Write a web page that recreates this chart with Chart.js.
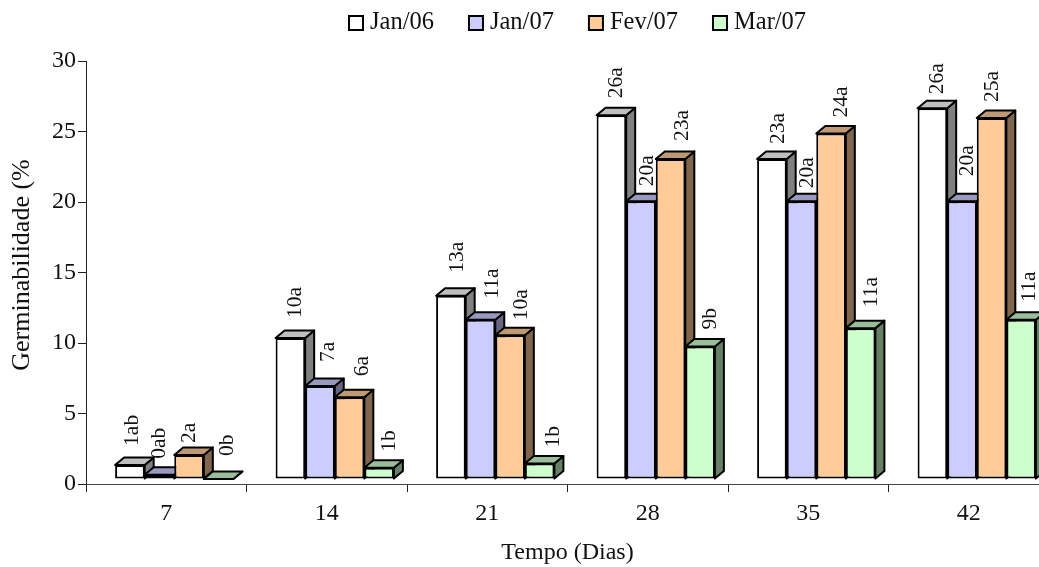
<!DOCTYPE html>
<html>
<head>
<meta charset="utf-8">
<style>
  html, body { margin: 0; background: #fff; overflow: hidden; }
  canvas { display: block; }
</style>
<script src="https://cdn.jsdelivr.net/npm/chart.js@4"></script>
</head>
<body>
<canvas id="germChart" width="1152" height="567" style="width:1152px;height:567px"></canvas>
<script>
const days = ['7', '14', '21', '28', '35', '42'];
const seriesNames = ['Jan/06', 'Jan/07', 'Fev/07', 'Mar/07'];

const jan06 = [1, 10, 13, 25.8, 22.7, 26.3];
const jan07 = [0.3, 6.6, 11.3, 19.7, 19.7, 19.7];
const fev07 = [1.7, 5.8, 10.2, 22.7, 24.5, 25.6];
const mar07 = [0, 0.8, 1.1, 9.4, 10.7, 11.3];

const jan06Labels = ['1ab', '10a', '13a', '26a', '23a', '26a'];
const jan07Labels = ['0ab', '7a', '11a', '20a', '20a', '20a'];
const fev07Labels = ['2a', '6a', '10a', '23a', '24a', '25a'];
const mar07Labels = ['0b', '1b', '1b', '9b', '11a', '11a'];

const colors = ['#ffffff', '#ccccff', '#ffcc99', '#ccffcc'];
const serif = '"Liberation Serif", "Times New Roman", serif';

// the labels in the original were moved by hand, so each one has its own nudge
const labelShiftX = [[2, 5, 6, 5, 6, 5], [0, 8, 12, 6, 6, 5], [0, 13, 11, 12, 10, 1], [9, 10, 14, 10, 11, 8]];
const labelGap = [[19, 20, 23, 17, 15, 14], [16, 24, 21, 15, 13, 25], [12, 21, 15, 18, 16, 16], [23, 16, 16, 17, 21, 18]];
const allLabels = [jan06Labels, jan07Labels, fev07Labels, mar07Labels];

const shiftX = 8, shiftY = -5;   // bars stand in front of the axis
const depthX = 9, depthY = -7.5;
const edge = 2;

function shade(hex, f) {
  const n = parseInt(hex.slice(1), 16);
  const r = Math.round((n >> 16 & 255) * f), g = Math.round((n >> 8 & 255) * f), b = Math.round((n & 255) * f);
  return `rgb(${r},${g},${b})`;
}

function face(ctx, pts, fill) {
  ctx.beginPath();
  pts.forEach((p, i) => i ? ctx.lineTo(p[0], p[1]) : ctx.moveTo(p[0], p[1]));
  ctx.closePath();
  ctx.fillStyle = fill;
  ctx.fill();
  ctx.stroke();
}

const bars3d = {
  id: 'bars3d',
  // later series must cover the side face of earlier ones, so draw them first to last
  beforeDatasetDraw() {
    return false;
  },
  beforeDatasetsDraw(chart) {
    const ctx = chart.ctx;
    ctx.save();
    ctx.translate(shiftX, shiftY);
    seriesNames.forEach((name, s) => {
      const meta = chart.getDatasetMeta(s);
      ctx.save();
      ctx.strokeStyle = '#000';
      ctx.lineWidth = edge;
      ctx.lineJoin = 'round';
      meta.data.forEach(el => {
        const l = el.x - el.width / 2, r = el.x + el.width / 2, t = el.y, b = el.base;
        face(ctx, [[r, t], [r + depthX, t + depthY], [r + depthX, b + depthY], [r, b]], shade(colors[s], 0.5));
        face(ctx, [[l, t], [l + depthX, t + depthY], [r + depthX, t + depthY], [r, t]], shade(colors[s], 0.75));
      });
      ctx.restore();
      meta.controller.draw();
    });
    ctx.restore();
  },
  afterDatasetsDraw(chart) {
    const ctx = chart.ctx;
    ctx.save();
    ctx.fillStyle = '#111';
    ctx.font = '21.5px ' + serif;
    ctx.textAlign = 'left';
    ctx.textBaseline = 'middle';
    allLabels.forEach((labels, s) => {
      chart.getDatasetMeta(s).data.forEach((el, i) => {
        ctx.save();
        ctx.translate(el.x + shiftX + labelShiftX[s][i], el.y + shiftY - labelGap[s][i]);
        ctx.rotate(-Math.PI / 2);
        ctx.fillText(labels[i], 0, 0);
        ctx.restore();
      });
    });
    ctx.restore();
  },
  afterDraw(chart) {
    const ctx = chart.ctx;
    ctx.save();
    ctx.fillStyle = '#111';
    ctx.textBaseline = 'middle';
    // y title sits a little above the centre of the axis
    ctx.font = '26px ' + serif;
    ctx.textAlign = 'center';
    ctx.save();
    ctx.translate(22, 265);
    ctx.rotate(-Math.PI / 2);
    ctx.fillText('Germinabilidade (%', 0, 0);
    ctx.restore();
    // legend
    ctx.font = '24.5px ' + serif;
    ctx.textAlign = 'left';
    let x = 349;
    seriesNames.forEach((name, s) => {
      ctx.fillStyle = colors[s];
      ctx.strokeStyle = '#000';
      ctx.lineWidth = edge;
      ctx.fillRect(x, 16, 14, 14);
      ctx.strokeRect(x, 16, 14, 14);
      ctx.fillStyle = '#111';
      ctx.fillText(name, x + 21, 23);
      x += 21 + ctx.measureText(name).width + 35;
    });
    ctx.restore();
  }
};

const seriesValues = [jan06, jan07, fev07, mar07];

new Chart(document.getElementById('germChart').getContext('2d'), {
  type: 'bar',
  plugins: [bars3d],
  data: {
    labels: days,
    datasets: seriesNames.map((name, s) => ({
      label: name,
      data: seriesValues[s],
      backgroundColor: colors[s],
      borderColor: '#000',
      borderWidth: edge,
      borderSkipped: false,
      categoryPercentage: 0.737,
      barPercentage: 1,
      clip: false
    }))
  },
  options: {
    responsive: false,
    animation: false,
    layout: { padding: { top: 61, right: 103, left: 0, bottom: 0 } },
    plugins: { legend: { display: false }, tooltip: { enabled: false } },
    scales: {
      x: {
        afterFit(scale) { scale.height = 83; },
        grid: { drawOnChartArea: false, color: '#222', tickLength: 8, tickWidth: 1 },
        border: { color: '#444', width: 1 },
        ticks: { color: '#111', font: { family: serif, size: 24 }, padding: 7, maxRotation: 0 },
        title: { display: true, text: 'Tempo (Dias)', color: '#111', font: { family: serif, size: 24 }, padding: { top: 0, bottom: 0 } }
      },
      y: {
        min: 0,
        max: 30,
        afterFit(scale) { scale.width = 86; },
        grid: { drawOnChartArea: false, color: '#222', tickLength: 8, tickWidth: 1 },
        border: { color: '#222', width: 1 },
        ticks: { stepSize: 5, color: '#111', font: { family: serif, size: 24 }, padding: 2 }
      }
    }
  }
});
</script>
</body>
</html>
